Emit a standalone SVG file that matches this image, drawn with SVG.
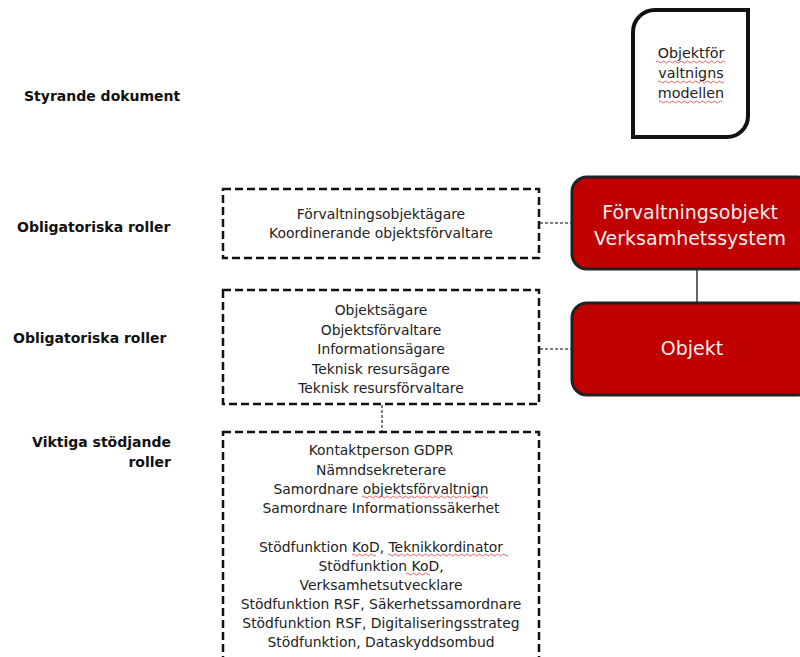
<svg xmlns="http://www.w3.org/2000/svg" width="800" height="657" viewBox="0 0 800 657">
<style>
.lbl{font-family:"DejaVu Sans","Verdana",sans-serif;font-weight:bold;font-size:14px;fill:#111}
.t{font-family:"DejaVu Sans","Verdana",sans-serif;font-size:13.9px;fill:#222;text-anchor:middle}
.doc{font-family:"DejaVu Sans","Verdana",sans-serif;font-size:14.3px;fill:#222;text-anchor:middle}
.w{font-family:"DejaVu Sans","Verdana",sans-serif;font-size:19px;fill:#f6eeee;text-anchor:middle}
.dash{fill:#fff;stroke:#111;stroke-width:2.5;stroke-dasharray:8 4}
.red{fill:#c00000;stroke:#222;stroke-width:3}
.dot{fill:none;stroke:#555;stroke-width:1.5;stroke-dasharray:3 2}
.solid{fill:none;stroke:#333;stroke-width:1.5}
.sp{fill:none;stroke:#e05555;stroke-width:0.9}
</style>
<rect width="800" height="657" fill="#fff"/>
<g id="labels">
<text class="lbl" x="24" y="101">Styrande dokument</text>
<text class="lbl" x="17" y="232">Obligatoriska roller</text>
<text class="lbl" x="13" y="343">Obligatoriska roller</text>
<text class="lbl" x="171" y="447" text-anchor="end">Viktiga stödjande</text>
<text class="lbl" x="171" y="467" text-anchor="end">roller</text>
</g>
<g id="connectors">
<line class="dot" x1="540" y1="223" x2="572" y2="223"/>
<line class="dot" x1="540" y1="349" x2="572" y2="349"/>
<line class="dot" x1="382" y1="405" x2="382" y2="432"/>
<line class="solid" x1="697" y1="269" x2="697" y2="303"/>
</g>
<g id="doc-modell">
<path d="M655 10 H748 V116 A21 21 0 0 1 727 137 H633 V32 A22 22 0 0 1 655 10 Z" fill="#fff" stroke="#111" stroke-width="4"/>
<text class="doc" x="691" y="58">Objektför</text>
<text class="doc" x="691" y="78">valtnigns</text>
<text class="doc" x="691" y="98">modellen</text>
<path class="sp" d="M656 62 q1.5 -2 3 0 t3 0 t3 0 t3 0 t3 0 t3 0 t3 0 t3 0 t3 0 t3 0 t3 0 t3 0 t3 0 t3 0 t3 0 t3 0 t3 0 t3 0 t3 0 t3 0 t3 0 t3 0 t3 0"/>
<path class="sp" d="M658 82 q1.5 -2 3 0 t3 0 t3 0 t3 0 t3 0 t3 0 t3 0 t3 0 t3 0 t3 0 t3 0 t3 0 t3 0 t3 0 t3 0 t3 0 t3 0 t3 0 t3 0 t3 0 t3 0 t3 0"/>
<path class="sp" d="M659 102 q1.5 -2 3 0 t3 0 t3 0 t3 0 t3 0 t3 0 t3 0 t3 0 t3 0 t3 0 t3 0 t3 0 t3 0 t3 0 t3 0 t3 0 t3 0 t3 0 t3 0 t3 0 t3 0"/>
</g>
<g id="roller-forvaltningsobjekt">
<rect class="dash" x="223" y="189" width="316" height="69"/>
<text class="t" x="381" y="219">Förvaltningsobjektägare</text>
<text class="t" x="381" y="238">Koordinerande objektsförvaltare</text>
</g>
<g id="roller-objekt">
<rect class="dash" x="223" y="290" width="316" height="114"/>
<text class="t" x="381" y="315">Objektsägare</text>
<text class="t" x="381" y="335">Objektsförvaltare</text>
<text class="t" x="381" y="354">Informationsägare</text>
<text class="t" x="381" y="374">Teknisk resursägare</text>
<text class="t" x="381" y="393">Teknisk resursförvaltare</text>
</g>
<g id="stodjande-roller">
<rect class="dash" x="223" y="432" width="316" height="250"/>
<text class="t" x="381" y="455">Kontaktperson GDPR</text>
<text class="t" x="381" y="475">Nämndsekreterare</text>
<text class="t" x="381" y="494">Samordnare objektsförvaltnign</text>
<text class="t" x="381" y="513">Samordnare Informationssäkerhet</text>
<text class="t" x="381" y="552">Stödfunktion KoD, Teknikkordinator</text>
<text class="t" x="381" y="571">Stödfunktion KoD,</text>
<text class="t" x="381" y="590">Verksamhetsutvecklare</text>
<text class="t" x="381" y="609">Stödfunktion RSF, Säkerhetssamordnare</text>
<text class="t" x="381" y="628">Stödfunktion RSF, Digitaliseringsstrateg</text>
<text class="t" x="381" y="647">Stödfunktion, Dataskyddsombud</text>
<path class="sp" d="M362 497 q1.5 -2 3 0 t3 0 t3 0 t3 0 t3 0 t3 0 t3 0 t3 0 t3 0 t3 0 t3 0 t3 0 t3 0 t3 0 t3 0 t3 0 t3 0 t3 0 t3 0 t3 0 t3 0 t3 0 t3 0 t3 0 t3 0 t3 0 t3 0 t3 0 t3 0 t3 0 t3 0 t3 0 t3 0 t3 0 t3 0 t3 0 t3 0 t3 0 t3 0 t3 0 t3 0 t3 0"/>
<path class="sp" d="M352 555 q1.5 -2 3 0 t3 0 t3 0 t3 0 t3 0 t3 0 t3 0 t3 0"/>
<path class="sp" d="M388 555 q1.5 -2 3 0 t3 0 t3 0 t3 0 t3 0 t3 0 t3 0 t3 0 t3 0 t3 0 t3 0 t3 0 t3 0 t3 0 t3 0 t3 0 t3 0 t3 0 t3 0 t3 0 t3 0 t3 0 t3 0 t3 0 t3 0 t3 0 t3 0 t3 0 t3 0 t3 0 t3 0 t3 0 t3 0 t3 0 t3 0 t3 0 t3 0 t3 0 t3 0 t3 0"/>
<path class="sp" d="M406 574 q1.5 -2 3 0 t3 0 t3 0 t3 0 t3 0 t3 0 t3 0 t3 0"/>
</g>
<g id="forvaltningsobjekt">
<rect class="red" x="572" y="177" width="240" height="92" rx="15"/>
<text class="w" x="690" y="219">Förvaltningsobjekt</text>
<text class="w" x="690" y="245">Verksamhetssystem</text>
</g>
<g id="objekt">
<rect class="red" x="572" y="303" width="240" height="92" rx="15"/>
<text class="w" x="692" y="355">Objekt</text>
</g>
</svg>
